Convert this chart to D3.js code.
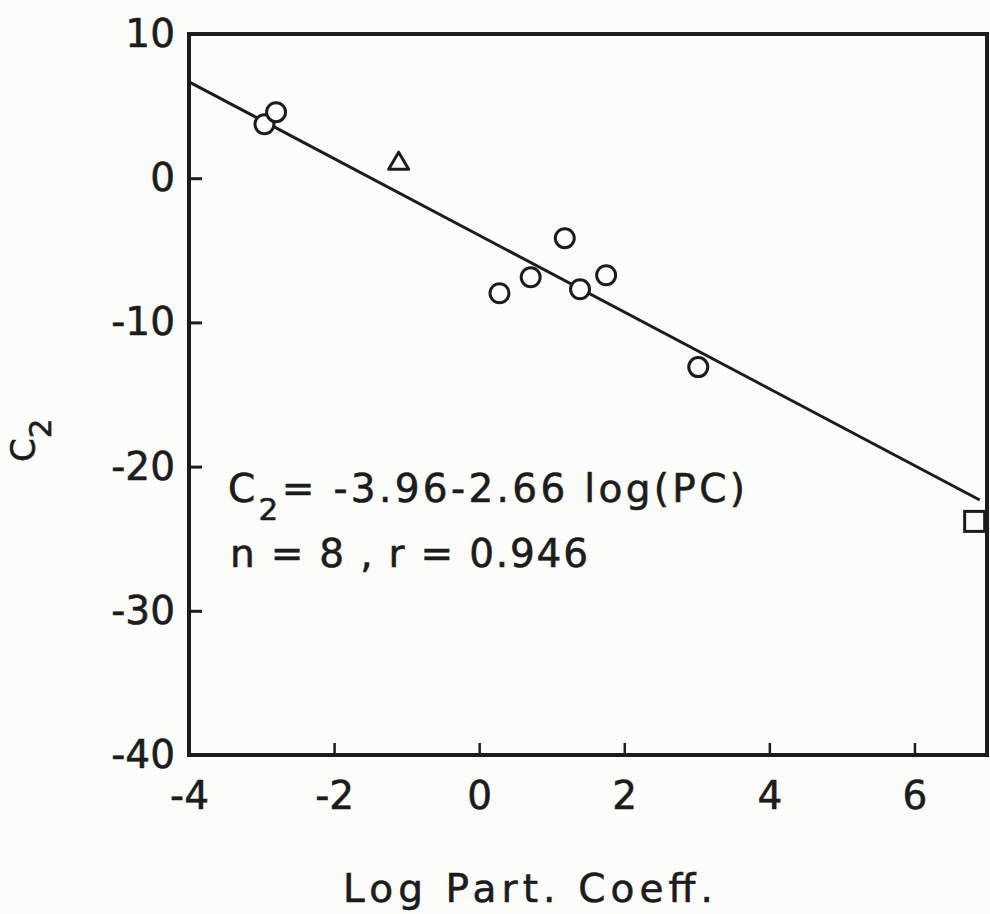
<!DOCTYPE html>
<html>
<head>
<meta charset="utf-8">
<script src="https://cdn.jsdelivr.net/npm/d3@7"></script>
<style>
  html, body { margin: 0; padding: 0; background: #fcfcfb; }
  svg { display: block; }
  text { font-family: "DejaVu Sans", sans-serif; fill: #1c1c1c; stroke: #1c1c1c; stroke-width: 0.6px; }
</style>
</head>
<body>
<svg id="chart" width="990" height="914"></svg>
<script>
// Log partition coefficient vs. C2 substituent constant
const circleX = [-2.96, -2.80, 0.28, 0.71, 1.18, 1.39, 1.75, 3.02];
const circleY = [3.74, 4.58, -7.98, -6.87, -4.16, -7.70, -6.73, -13.1];
const triangleX = [-1.11];
const triangleY = [1.18];
const squareX = [6.83];
const squareY = [-23.8];

// Regression: C2 = -3.96 - 2.66 log(PC)
const fitIntercept = -3.96;
const fitSlope = -2.66;
const fitRange = [-4, 6.9];

const xTicks = [-4, -2, 0, 2, 4, 6];
const yTicks = [10, 0, -10, -20, -30, -40];

const ink = "#1c1c1c";
const svg = d3.select("#chart");
const plotLeft = 189, plotRight = 987, plotTop = 34, plotBottom = 755;

const x = d3.scaleLinear().domain([-4, 7]).range([plotLeft, plotRight]);
const y = d3.scaleLinear().domain([-40, 10]).range([plotBottom, plotTop]);

// frame
svg.append("rect")
  .attr("x", plotLeft).attr("y", plotTop)
  .attr("width", plotRight - plotLeft).attr("height", plotBottom - plotTop)
  .attr("fill", "none").attr("stroke", ink).attr("stroke-width", 4);

// x axis with inward ticks
const xAxis = svg.append("g")
  .attr("transform", `translate(0,${plotBottom})`)
  .call(d3.axisBottom(x).tickValues(xTicks).tickSizeInner(-12).tickSizeOuter(0)
    .tickPadding(26).tickFormat(d => String(d)));
xAxis.select(".domain").remove();
xAxis.selectAll(".tick line").attr("stroke", ink).attr("stroke-width", 2.5);
xAxis.selectAll(".tick text").attr("font-size", 39).attr("font-family", "DejaVu Sans").attr("fill", ink);

// y axis with inward ticks
const yAxis = svg.append("g")
  .attr("transform", `translate(${plotLeft},0)`)
  .call(d3.axisLeft(y).tickValues(yTicks).tickSizeInner(-13).tickSizeOuter(0)
    .tickPadding(14).tickFormat(d => String(d)));
yAxis.select(".domain").remove();
yAxis.selectAll(".tick line").attr("stroke", ink).attr("stroke-width", 3);
yAxis.selectAll(".tick text").attr("font-size", 39).attr("font-family", "DejaVu Sans").attr("fill", ink);

// regression line
svg.append("line")
  .attr("x1", x(fitRange[0])).attr("y1", y(fitIntercept + fitSlope * fitRange[0]))
  .attr("x2", x(fitRange[1])).attr("y2", y(fitIntercept + fitSlope * fitRange[1]))
  .attr("stroke", ink).attr("stroke-width", 3);

// circles
svg.append("g").selectAll("circle")
  .data(circleX.map((v, i) => [v, circleY[i]]))
  .join("circle")
  .attr("cx", d => x(d[0])).attr("cy", d => y(d[1])).attr("r", 9.5)
  .attr("fill", "#fcfcfb").attr("stroke", ink).attr("stroke-width", 3);

// triangle
svg.append("g").selectAll("path")
  .data(triangleX.map((v, i) => [v, triangleY[i]]))
  .join("path")
  .attr("transform", d => `translate(${x(d[0])},${y(d[1])})`)
  .attr("d", "M0,-9 L10,8 L-10,8 Z")
  .attr("fill", "none").attr("stroke", ink).attr("stroke-width", 3).attr("stroke-linejoin", "round");

// square
svg.append("g").selectAll("rect")
  .data(squareX.map((v, i) => [v, squareY[i]]))
  .join("rect")
  .attr("x", d => x(d[0]) - 10).attr("y", d => y(d[1]) - 10)
  .attr("width", 20).attr("height", 20)
  .attr("fill", "none").attr("stroke", ink).attr("stroke-width", 3);

// equation annotation
const eq = svg.append("text").attr("x", 228).attr("y", 502).attr("font-size", 39)
  .attr("textLength", 517).attr("lengthAdjust", "spacing");
eq.append("tspan").text("C");
eq.append("tspan").attr("dy", 18).attr("font-size", 31).text("2");
eq.append("tspan").attr("dy", -18).text("= -3.96-2.66 log(PC)");

svg.append("text").attr("x", 230).attr("y", 567).attr("font-size", 39)
  .attr("textLength", 358).attr("lengthAdjust", "spacing")
  .text("n = 8 ,  r = 0.946");

// axis titles
svg.append("text").attr("x", 343).attr("y", 902).attr("font-size", 39)
  .attr("textLength", 370).attr("lengthAdjust", "spacing")
  .text("Log Part.  Coeff.");

const yt = svg.append("text")
  .attr("transform", "translate(35,462) rotate(-90)")
  .attr("font-size", 34);
yt.append("tspan").text("C");
yt.append("tspan").attr("dy", 16).attr("font-size", 31).text("2");
</script>
</body>
</html>
